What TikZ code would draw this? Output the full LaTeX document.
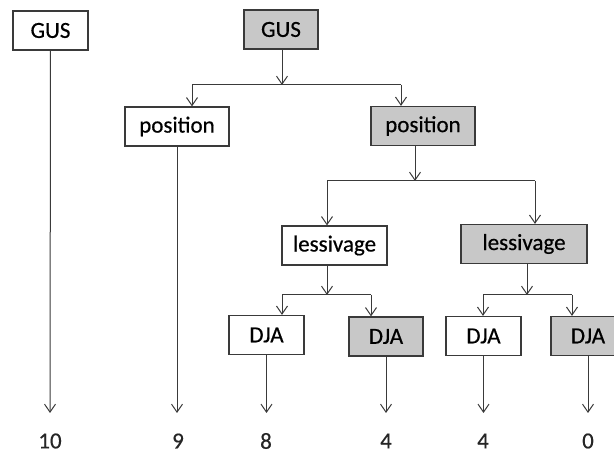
\documentclass[tikz,border=0pt]{standalone}
\usepackage{fontspec}
\setmainfont{Carlito}[FakeBold=0.5]
\usetikzlibrary{arrows.meta}
\definecolor{boxgray}{HTML}{C8C8C8}
\definecolor{linegray}{HTML}{3A3A3A}
\tikzset{
  box/.style={draw=linegray, line width=1.2pt, fill=white, rectangle, inner sep=0pt,
    minimum height=39pt, font=\fontsize{23}{27}\selectfont, text=black},
  gbox/.style={box, fill=boxgray},
  arr/.style={draw=linegray, line width=1pt, -{Straight Barb[length=8pt,width=11pt]}},
  ln/.style={draw=linegray, line width=1pt},
  val/.style={font=\fontsize{23}{27}\selectfont, text=black!85}
}
\begin{document}
\begin{tikzpicture}[x=1pt,y=-1pt]
\useasboundingbox (0,0) rectangle (614,454);
% boxes
\node[box,  minimum width=75pt]  (gusA) at (50.5,30.5) {GUS};
\node[gbox, minimum width=74pt]  (gusB) at (281,29.5) {GUS};
\node[box,  minimum width=104pt] (posA) at (177,126.5) {position};
\node[gbox, minimum width=104pt] (posB) at (423,126) {position};
\node[box,  minimum width=105pt] (lesA) at (334.5,245.5) {lessivage};
\node[gbox, minimum width=126pt] (lesB) at (524,244) {lessivage};
\node[box,  minimum width=75pt]  (djaA) at (266.5,335) {DJA};
\node[gbox, minimum width=74pt]  (djaB) at (386,336.5) {DJA};
\node[box,  minimum width=75pt]  (djaC) at (483.5,336) {DJA};
\node[gbox, minimum width=74pt]  (djaD) at (588,336) {DJA};
% values
\node[val] (v1) at (50,441) {10};
\node[val] (v2) at (178,441) {9};
\node[val] (v3) at (266,441) {8};
\node[val] (v4) at (386,441) {4};
\node[val] (v5) at (483,441) {4};
\node[val] (v6) at (588,441) {0};
% junction coordinates
\coordinate (j1) at (282,85);
\coordinate (j1L) at (192,85);
\coordinate (j1R) at (401,85);
\coordinate (j2) at (415,181);
\coordinate (j2L) at (327,181);
\coordinate (j2R) at (535,181);
\coordinate (j3) at (327,295);
\coordinate (j3L) at (282,295);
\coordinate (j3R) at (371,295);
\coordinate (j4) at (527,295);
\coordinate (j4L) at (483,295);
\coordinate (j4R) at (572,295);
% connectors
\draw[arr] (gusA.south) -- (v1.north |- 0,413);
\draw[arr] (gusB.south -| j1) -- (j1);
\draw[ln] (j1L) -- (j1R);
\draw[arr] (j1L) -- (j1L |- posA.north);
\draw[arr] (j1R) -- (j1R |- posB.north);
\draw[arr] (posA.south) -- (posA.south |- 0,413);
\draw[arr] (posB.south -| j2) -- (j2);
\draw[ln] (j2L) -- (j2R);
\draw[arr] (j2L) -- (j2L |- lesA.north);
\draw[arr] (j2R) -- (j2R |- lesB.north);
\draw[arr] (lesA.south -| j3) -- (j3);
\draw[ln] (j3L) -- (j3R);
\draw[arr] (j3L) -- (j3L |- djaA.north);
\draw[arr] (j3R) -- (j3R |- djaB.north);
\draw[arr] (lesB.south -| j4) -- (j4);
\draw[ln] (j4L) -- (j4R);
\draw[arr] (j4L) -- (j4L |- djaC.north);
\draw[arr] (j4R) -- (j4R |- djaD.north);
\draw[arr] (djaA.south) -- (djaA.south |- 0,413);
\draw[arr] (djaB.south) -- (djaB.south |- 0,413);
\draw[arr] (djaC.south) -- (djaC.south |- 0,413);
\draw[arr] (djaD.south) -- (djaD.south |- 0,413);
\end{tikzpicture}
\end{document}
